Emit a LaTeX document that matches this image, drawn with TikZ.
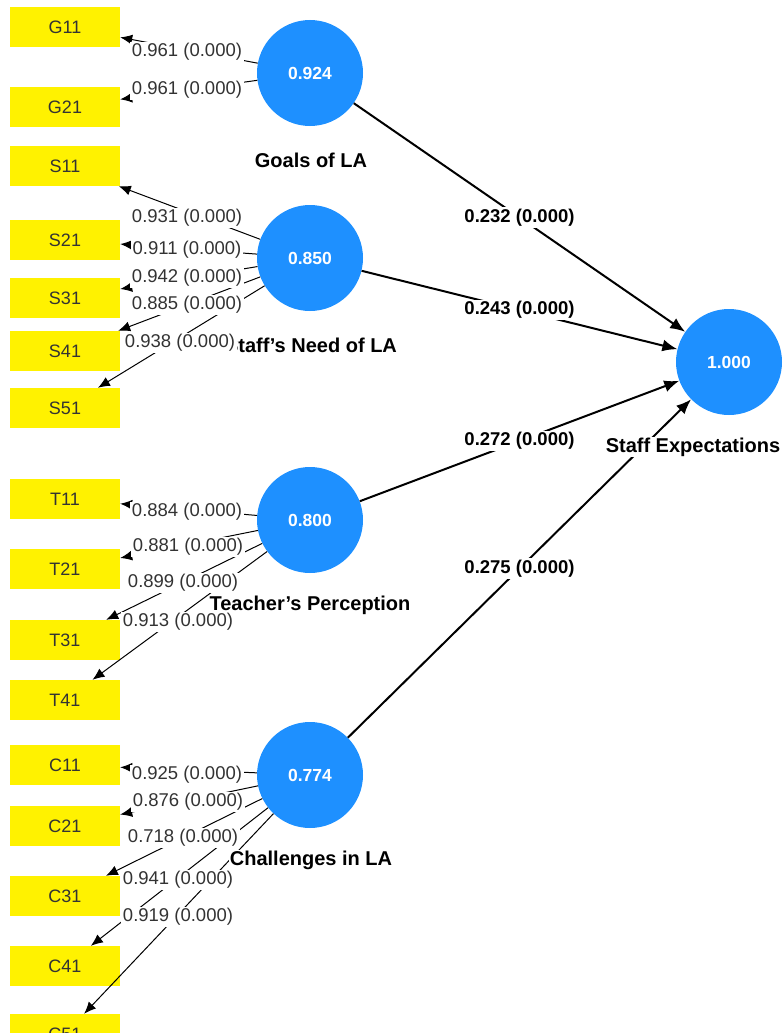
\documentclass[tikz,border=0pt]{standalone}
\usepackage{fontspec}
\setmainfont{Liberation Sans}
\usetikzlibrary{arrows.meta}
\definecolor{lvblue}{RGB}{30,144,255}

\begin{document}
\begin{tikzpicture}[x=1pt,y=-1pt,
  lv/.style={circle,fill=lvblue,minimum size=106pt,inner sep=0pt,text=white,font=\fontsize{17.5}{19}\selectfont\bfseries},
  ind/.style={rectangle,fill=yellow,minimum width=110pt,minimum height=40pt,inner sep=0pt,text=black!80,font=\fontsize{18}{20}\selectfont},
  lvname/.style={fill=white,inner sep=1pt,font=\fontsize{20}{22}\selectfont\bfseries},
  ld/.style={-{Latex[length=12pt,width=10pt]},line width=1pt},
  pc/.style={-{Latex[length=15pt,width=12pt]},line width=2pt},
  ldlbl/.style={fill=white,inner sep=1.5pt,text=black!80,font=\fontsize{18.5}{20}\selectfont},
  pclbl/.style={fill=white,inner sep=1.5pt,font=\fontsize{18.5}{20}\selectfont\bfseries}]
  \useasboundingbox (0,0) rectangle (782,1033);
  % indicadores
  \node[ind] (g11) at (65,27){G11}; \node[ind] (g21) at (65,107){G21};
  \node[ind] (s11) at (65,166){S11}; \node[ind] (s21) at (65,240){S21}; \node[ind] (s31) at (65,298){S31};
  \node[ind] (s41) at (65,351){S41}; \node[ind] (s51) at (65,408){S51};
  \node[ind] (t11) at (65,499){T11}; \node[ind] (t21) at (65,569){T21}; \node[ind] (t31) at (65,640){T31};
  \node[ind] (t41) at (65,700){T41};
  \node[ind] (c11) at (65,765){C11}; \node[ind] (c21) at (65,826){C21}; \node[ind] (c31) at (65,896){C31};
  \node[ind] (c41) at (65,966){C41}; \node[ind] (c51) at (65,1034){C51};
  % constructos
  \node[lv] (goal) at (310,73){0.924};
  \node[lv] (need) at (310,258){0.850};
  \node[lv] (perc) at (310,520){0.800};
  \node[lv] (chal) at (310,775){0.774};
  \node[lv] (expc) at (729,362){1.000};
  % cargas
  \draw[ld] (goal)--(g11); \draw[ld] (goal)--(g21);
  \draw[ld] (need)--(s11); \draw[ld] (need)--(s21); \draw[ld] (need)--(s31); \draw[ld] (need)--(s41); \draw[ld] (need)--(s51);
  \draw[ld] (perc)--(t11); \draw[ld] (perc)--(t21); \draw[ld] (perc)--(t31); \draw[ld] (perc)--(t41);
  \draw[ld] (chal)--(c11); \draw[ld] (chal)--(c21); \draw[ld] (chal)--(c31); \draw[ld] (chal)--(c41); \draw[ld] (chal)--(c51);
  % coeficientes de ruta
  \draw[pc] (goal)-- node[pclbl]{0.232 (0.000)} (expc);
  \draw[pc] (need)-- node[pclbl]{0.243 (0.000)} (expc);
  \draw[pc] (perc)-- node[pclbl]{0.272 (0.000)} (expc);
  \draw[pc] (chal)-- node[pclbl]{0.275 (0.000)} (expc);
  % nombres
  \node[lvname] (goalname) at (311,160){Goals of LA};
  \node[lvname] (needname) at (311,345){Staff's Need of LA};
  \node[lvname] (percname) at (310,605){Teacher's Perception};
  \node[lvname] (chalname) at (311,860){Challenges in LA};
  \node[lvname] (expcname) at (693,447){Staff Expectations};
  % etiquetas de carga
  \node[ldlbl] (lg11) at (187,52){0.961 (0.000)}; \node[ldlbl] (lg21) at (187,90){0.961 (0.000)};
  \node[ldlbl] (ls11) at (187,218){0.931 (0.000)}; \node[ldlbl] (ls21) at (187,250){0.911 (0.000)};
  \node[ldlbl] (ls31) at (187,278){0.942 (0.000)}; \node[ldlbl] (ls41) at (187,305){0.885 (0.000)};
  \node[ldlbl] (ls51) at (180,343){0.938 (0.000)};
  \node[ldlbl] (lt11) at (187,512){0.884 (0.000)}; \node[ldlbl] (lt21) at (188,547){0.881 (0.000)};
  \node[ldlbl] (lt31) at (183,583){0.899 (0.000)}; \node[ldlbl] (lt41) at (178,622){0.913 (0.000)};
  \node[ldlbl] (lc11) at (187,775){0.925 (0.000)}; \node[ldlbl] (lc21) at (188,802){0.876 (0.000)};
  \node[ldlbl] (lc31) at (183,838){0.718 (0.000)}; \node[ldlbl] (lc41) at (178,880){0.941 (0.000)};
  \node[ldlbl] (lc51) at (178,917){0.919 (0.000)};
\end{tikzpicture}
\end{document}
